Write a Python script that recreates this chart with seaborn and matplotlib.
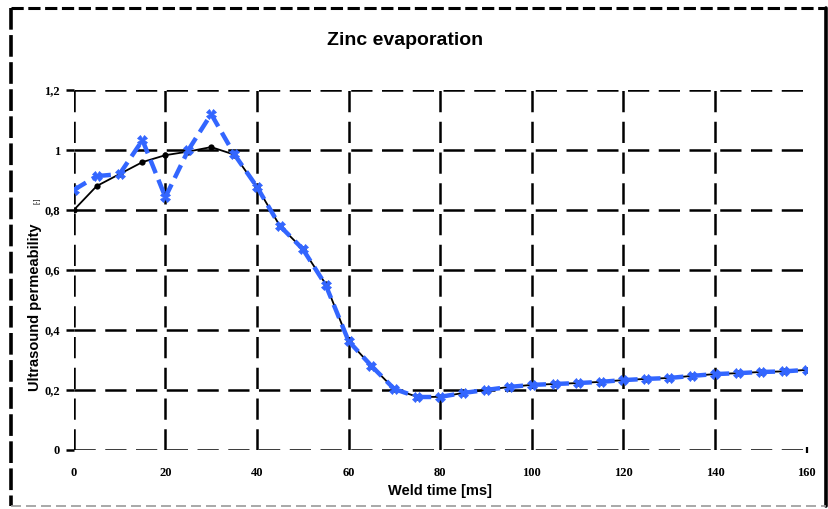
import matplotlib
matplotlib.use("Agg")
import matplotlib.pyplot as plt
import seaborn as sns
import pandas as pd
import numpy as np
from matplotlib.lines import Line2D

# ---- data ----
weld_time = [0, 5, 10, 15, 20, 25, 30, 35, 40, 45, 50, 55, 60, 65, 70, 75, 80,
             85, 90, 95, 100, 105, 110, 115, 120, 125, 130, 135, 140, 145, 150, 155, 160]
measured = [0.867, 0.913, 0.92, 1.033, 0.843, 1.0, 1.12, 0.987, 0.877, 0.747, 0.67,
            0.55, 0.363, 0.28, 0.203, 0.177, 0.177, 0.19, 0.2, 0.21, 0.217, 0.22,
            0.223, 0.227, 0.233, 0.237, 0.24, 0.247, 0.253, 0.256, 0.26, 0.262, 0.267]
smoothed = [0.80, 0.88, 0.92, 0.96, 0.983, 0.995, 1.01, 0.985, 0.877, 0.747, 0.67,
            0.553, 0.363, 0.28, 0.203, 0.177, 0.177, 0.19, 0.2, 0.21, 0.217, 0.22,
            0.223, 0.227, 0.233, 0.237, 0.24, 0.247, 0.253, 0.256, 0.26, 0.262, 0.267]
x_ticks = [0, 20, 40, 60, 80, 100, 120, 140, 160]
x_tick_labels = ["0", "20", "40", "60", "80", "100", "120", "140", "160"]
y_ticks = [0, 0.2, 0.4, 0.6, 0.8, 1.0, 1.2]
y_tick_labels = ["0", "0,2", "0,4", "0,6", "0,8", "1", "1,2"]
title = "Zinc evaporation"
xlabel = "Weld time [ms]"
ylabel = "Ultrasound permeability"

df = pd.DataFrame({"t": weld_time, "measured": measured, "smoothed": smoothed})

sns.set_style("white")
plt.rcParams["font.family"] = ["Liberation Sans", "DejaVu Sans"]
plt.rcParams["text.color"] = "black"
plt.rcParams["xtick.color"] = "black"
plt.rcParams["ytick.color"] = "black"

fig = plt.figure(figsize=(8.29, 5.09), dpi=100)
ax = fig.add_axes([0.089, 0.116, 0.884, 0.707])

blue = "#3366ff"

# grid
for yv in y_ticks:
    ax.axhline(yv, color="black", lw=1.8, dashes=(8.5, 3.8), zorder=1)
for xv in x_ticks[:-1]:
    ax.axvline(xv, color="black", lw=1.8, dashes=(8.5, 3.8), zorder=1)

# black reference series
sns.lineplot(data=df, x="t", y="smoothed", ax=ax, color="black", lw=1.3,
             marker="o", markersize=4.5, markeredgewidth=0, zorder=3)

# blue measured series: dash pattern restarts on each segment
for i in range(len(weld_time) - 1):
    ax.plot(weld_time[i:i + 2], measured[i:i + 2], color=blue, lw=3.2,
            dashes=(3.2, 1.6), solid_capstyle="butt", zorder=4)
sns.lineplot(data=df, x="t", y="measured", ax=ax, color=blue, lw=0,
             marker="X", markersize=7, markeredgewidth=0.5,
             markeredgecolor=blue, zorder=5)

ax.set_xlim(0, 160)
ax.set_ylim(0, 1.2)
ax.set_xticks(x_ticks)
ax.set_xticklabels(x_tick_labels)
ax.set_yticks(y_ticks)
ax.set_yticklabels(y_tick_labels)
for s in ax.spines.values():
    s.set_visible(False)
ax.tick_params(axis="y", direction="out", length=6, width=1.8, color="black", pad=4)
ax.tick_params(axis="x", direction="out", length=0, pad=12)
ax.tick_params(left=True, bottom=False)
for lab in ax.get_xticklabels() + ax.get_yticklabels():
    lab.set_fontfamily(["Liberation Serif", "DejaVu Serif"])
    lab.set_fontweight("bold")
    lab.set_fontsize(9)
    lab.set_color("black")
ax.set_xlabel("")
ax.set_ylabel("")
ax.plot([160], [0], marker="|", color="black", markersize=5, mew=1.6, clip_on=False)

fig.text(0.489, 0.921, title, ha="center", va="center", fontsize=14, fontweight="bold",
         color="black")
fig.text(0.531, 0.035, xlabel, ha="center", va="center", fontsize=10.5, fontweight="bold",
         color="black")
fig.text(0.042, 0.397, ylabel, ha="center", va="center", rotation=90, fontsize=10.5,
         fontweight="bold", color="black")
fig.text(0.045, 0.605, "[-]", ha="center", va="center", rotation=90, fontsize=5,
         color="black")

# figure border
fig.add_artist(Line2D([0.013, 0.996], [0.984, 0.984], transform=fig.transFigure,
                      color="black", lw=2.2, dashes=(4, 1.5)))
fig.add_artist(Line2D([0.013, 0.013], [0.984, 0.006], transform=fig.transFigure,
                      color="black", lw=2.6, dashes=(6, 1.5)))
fig.add_artist(Line2D([0.996, 0.996], [0.984, 0.006], transform=fig.transFigure,
                      color="black", lw=2.6))
fig.add_artist(Line2D([0.013, 0.996], [0.006, 0.006], transform=fig.transFigure,
                      color="#999999", lw=1.2, dashes=(6, 3)))

fig.savefig("out.png", dpi=100)
